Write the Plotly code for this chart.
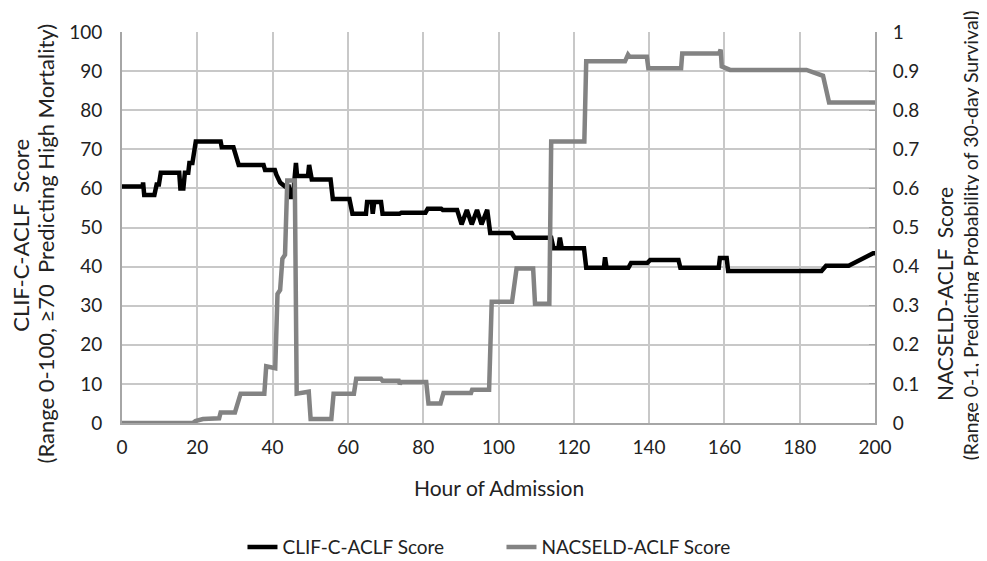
import plotly.graph_objects as go

# CLIF-C-ACLF score (left axis, 0-100)
clif_hours = [0, 5.5, 5.6, 5.9, 8.6, 9.2, 9.8, 10.3, 15.2, 15.5, 16.3, 16.7, 17.6, 17.9, 18.7, 19.0,
              19.3, 19.6, 26.2, 26.5, 29.6, 31.0, 37.6, 38.0, 40.6, 41.0, 42.0, 43.3, 44.3, 44.8,
              45.4, 46.2, 46.5, 46.9, 49.4, 49.7, 50.1, 50.4, 55.4, 56.0, 60.4, 61.2, 64.8, 65.1,
              66.3, 66.6, 67.0, 68.8, 69.2, 73.7, 74.2, 80.6, 81.2, 84.8, 85.2, 89.0, 90.2, 91.6,
              92.9, 94.3, 95.5, 97.0, 97.8, 103.5, 104.3, 114.0, 114.6, 115.9, 116.3, 116.8, 122.7,
              123.3, 128.0, 128.3, 128.7, 134.5, 135.2, 139.5, 140.3, 147.8, 148.3, 158.5, 158.8,
              160.6, 161.0, 185.8, 187.0, 193.0, 199.5, 200]
clif_scores = [60.5, 60.5, 61.5, 58.3, 58.3, 61.0, 61.0, 64.0, 64.0, 60.0, 60.0, 64.0, 64.0, 66.5, 66.5, 68.5,
               68.5, 72.0, 72.0, 70.5, 70.5, 66.0, 66.0, 64.7, 64.7, 63.5, 61.5, 60.5, 60.5, 57.8,
               57.8, 66.5, 63.2, 63.2, 63.2, 66.0, 62.3, 62.3, 62.3, 57.3, 57.3, 53.5, 53.5, 56.5,
               56.5, 53.5, 56.5, 56.5, 53.5, 53.5, 53.8, 53.8, 54.8, 54.8, 54.5, 54.5, 50.8, 54.5,
               50.8, 54.5, 50.8, 54.5, 48.6, 48.6, 47.4, 47.4, 44.7, 44.7, 47.4, 44.7, 44.7,
               39.7, 39.7, 42.4, 39.7, 39.7, 40.9, 40.9, 41.7, 41.7, 39.7, 39.7, 42.2,
               42.2, 38.9, 38.9, 40.2, 40.2, 43.4, 43.4]

# NACSELD-ACLF score (right axis, 0-1)
nac_hours = [0, 18.8, 19.5, 21.5, 25.8, 26.2, 30.0, 31.5, 37.8, 38.3, 40.7, 41.3, 42.0, 42.6, 43.3,
             43.9, 45.9, 46.4, 49.6, 50.1, 55.6, 56.2, 61.6, 62.2, 68.8, 69.2, 73.5, 73.8, 74.2,
             80.8, 81.4, 84.6, 85.4, 92.7, 93.0, 97.5, 98.2, 103.6, 104.8, 109.2, 109.7, 113.5,
             114.0, 122.8, 123.3, 133.6, 134.4, 134.8, 139.4, 139.8, 148.5, 148.8, 158.6, 159.0,
             159.3, 161.5, 181.8, 185.0, 186.2, 187.8, 200]
nac_scores = [0, 0, 0.005, 0.01, 0.012, 0.027, 0.027, 0.075, 0.075, 0.145, 0.14, 0.33, 0.34, 0.42, 0.43,
              0.62, 0.62, 0.075, 0.08, 0.01, 0.01, 0.075, 0.075, 0.113, 0.113, 0.108, 0.108, 0.1, 0.105,
              0.105, 0.05, 0.05, 0.077, 0.077, 0.085, 0.085, 0.31, 0.31, 0.395, 0.395, 0.305, 0.305,
              0.72, 0.72, 0.925, 0.925, 0.942, 0.937, 0.937, 0.907, 0.907, 0.945, 0.945, 0.955,
              0.912, 0.903, 0.903, 0.89, 0.888, 0.82, 0.82]

left_ticks = [0, 10, 20, 30, 40, 50, 60, 70, 80, 90, 100]
right_ticks = [0, 0.1, 0.2, 0.3, 0.4, 0.5, 0.6, 0.7, 0.8, 0.9, 1]
x_ticks = [0, 20, 40, 60, 80, 100, 120, 140, 160, 180, 200]

FONT = "Lato"
TXT = "#222222"
fig = go.Figure()
fig.add_trace(go.Scatter(x=clif_hours, y=clif_scores, mode="lines", name="CLIF-C-ACLF Score",
                         line=dict(color="#000000", width=4.5)))
fig.add_trace(go.Scatter(x=nac_hours, y=nac_scores, mode="lines", name="NACSELD-ACLF Score",
                         yaxis="y2", line=dict(color="#838383", width=4.5)))

fig.update_layout(
    width=979, height=553,
    margin=dict(l=114, r=112, t=12, b=138),
    paper_bgcolor="white", plot_bgcolor="white",
    font=dict(family=FONT, size=19, color=TXT),
    showlegend=True,
    legend=dict(orientation="h", x=0.16, xanchor="left", yref="container", y=0.025, yanchor="middle",
                font=dict(size=19), entrywidth=214, entrywidthmode="pixels", tracegroupgap=0),
    xaxis=dict(range=[0, 200], tickvals=x_ticks, showgrid=True, gridcolor="#c8c8c8", gridwidth=1.5,
               showline=True, linecolor="#a6a6a6", linewidth=2, zeroline=False, ticks="",
               ticklabelstandoff=6),
    yaxis=dict(range=[0, 100], tickvals=left_ticks, showgrid=True, gridcolor="#c8c8c8", gridwidth=1.5,
               showline=True, linecolor="#a6a6a6", linewidth=2, zeroline=False, ticks="",
               ticklabelstandoff=14, ticklabeloverflow="allow"),
    yaxis2=dict(range=[0, 1], tickvals=right_ticks, overlaying="y", side="right", showgrid=False,
                showline=True, linecolor="#a6a6a6", linewidth=2, zeroline=False,
                ticks="inside", ticklen=6, tickcolor="#a6a6a6", ticklabelstandoff=12,
                ticklabeloverflow="allow"),
)

annots = [
    dict(text="CLIF-C-ACLF  Score", x=-0.134, y=0.479, angle=-90, size=22),
    dict(text="(Range 0-100, \u226570  Predicting High Mortality)", x=-0.101, y=0.459, angle=-90, size=22),
    dict(text="NACSELD-ACLF  Score", x=1.093, y=0.33, angle=-90, size=21),
    dict(text="(Range 0-1, Predicting Probability of 30-day Survival)", x=1.127, y=0.479, angle=-90, size=19.5),
    dict(text="Hour of Admission", x=0.5, y=-0.166, angle=0, size=21),
]
for a in annots:
    fig.add_annotation(text=a["text"], x=a["x"], y=a["y"], xref="paper", yref="paper",
                       textangle=a["angle"], showarrow=False, xanchor="center", yanchor="middle",
                       font=dict(family=FONT, size=a["size"], color=TXT))

fig.write_html("out.html")
